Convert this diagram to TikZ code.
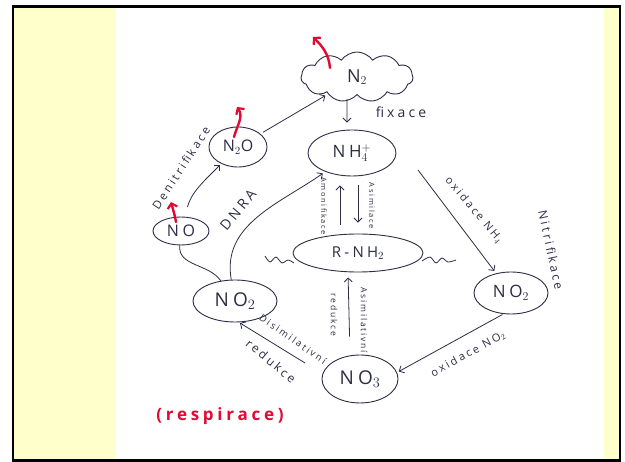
\documentclass[tikz,border=0pt]{standalone}
\usepackage{fontspec}
\setmainfont{Open Sans}
\newfontfamily\hand[LetterSpace=22]{Open Sans}
\usetikzlibrary{shapes.geometric,shapes.symbols,arrows.meta}
\definecolor{ink}{RGB}{45,45,70}
\definecolor{redink}{RGB}{225,10,50}
\definecolor{paper}{RGB}{255,255,204}
\begin{document}
\begin{tikzpicture}[x=1pt,y=1pt,
  chem/.style={ellipse, draw=ink, line width=0.9pt, inner sep=0pt, text=ink, font=\hand\fontsize{17}{20}\selectfont},
  flow/.style={draw=ink, line width=0.8pt, -{Straight Barb[length=4pt,width=8pt]}},
  plainline/.style={draw=ink, line width=0.8pt},
  redarrow/.style={draw=redink, line width=2.4pt, line cap=round, -{Straight Barb[length=4.5pt,width=10pt,line width=2.2pt]}},
  lbl/.style={inner sep=0pt, text=ink, font=\hand\fontsize{11}{13}\selectfont},
  small/.style={inner sep=0pt, text=ink, font=\hand\fontsize{7.5}{9}\selectfont}]
\useasboundingbox (0,0) rectangle (625,-462);
% background and frame
\fill[white] (0,0) rectangle (625,-462);
\fill[paper] (13,-6.5) rectangle (620,-460.5);
\fill[white] (115,-8) rectangle (604,-459);
\draw[black, line width=2.5pt] (13,-6.5) rectangle (620,-460.5);

% nodes
\node[cloud, draw=ink, line width=0.9pt, cloud puffs=11, cloud puff arc=110, aspect=2.3,
      minimum width=112pt, minimum height=50pt, inner sep=0pt, text=ink,
      font=\hand\fontsize{18}{20}\selectfont] (N2) at (357,-77) {N$_2$};
\node[chem, minimum width=88pt, minimum height=46pt] (NH4) at (352,-153) {NH$_4^+$};
\node[chem, minimum width=58pt, minimum height=40pt, font=\hand\fontsize{16}{18}\selectfont] (N2O) at (238,-147) {N$_2$O};
\node[chem, minimum width=56pt, minimum height=28pt, font=\hand\fontsize{16}{18}\selectfont] (NO) at (181,-231) {NO};
\node[chem, minimum width=84pt, minimum height=42pt, font=\hand\fontsize{19}{21}\selectfont] (NO2L) at (235,-301) {NO$_2$};
\node[chem, minimum width=74pt, minimum height=42pt] (NO2R) at (511,-293) {NO$_2$};
\node[chem, minimum width=76pt, minimum height=48pt, font=\hand\fontsize{19}{21}\selectfont] (NO3) at (360,-379) {NO$_3$};
\node[chem, minimum width=130pt, minimum height=38pt, font=\hand\fontsize{15}{17}\selectfont] (RNH2) at (358,-253) {R-NH$_2$};

% wavy tails of R-NH2
\draw[plainline] plot[smooth] coordinates {(265,-256) (270,-262) (276,-257) (282,-263) (288,-260) (294,-263)};
\draw[plainline] plot[smooth] coordinates {(422,-261) (430,-257) (436,-263) (442,-258) (448,-262) (456,-260)};

% coordinates for free arrow ends
\coordinate (oxs) at (418,-170);
\coordinate (ds) at (305,-363);
\coordinate (de) at (240,-323);

% connectors
\draw[flow] ([xshift=-10pt,yshift=-4pt]N2.south) -- ([xshift=-5pt,yshift=7pt]NH4.north);
\draw[flow, shorten <=3pt, shorten >=3pt] (N2O) -- (N2);
\draw[flow, shorten <=10pt, shorten >=2pt] (NO) to[out=75, in=225] (N2O);
\draw[plainline] (NO) to[out=-95, in=125] (NO2L);
\draw[flow, shorten >=3pt] (NO2L) to[out=100, in=215] (NH4);
\draw[flow, shorten >=3pt] (oxs) -- (NO2R);
\draw[flow, shorten <=1pt, shorten >=2pt] (NO2R.250) -- (NO3.10);
\draw[flow] (ds) -- (de);
\draw[flow, shorten <=18pt, shorten >=5pt] ([xshift=-10pt]NO3.north) -- ([xshift=-10pt]RNH2.south);
\draw[flow, shorten <=9pt, shorten >=9pt] ([xshift=-18pt]RNH2.north) -- ([xshift=-12pt]NH4.south);
\draw[flow, shorten <=9pt, shorten >=11pt] ([xshift=6pt]NH4.south) -- ([xshift=0pt]RNH2.north);

% red escape arrows
\coordinate (r1s) at (330,-68); \coordinate (r1e) at (313,-37);
\coordinate (r2s) at (234,-137); \coordinate (r2e) at (237,-107);
\coordinate (r3s) at (176,-222); \coordinate (r3e) at (171,-202);
\draw[redarrow] (r1s) to[out=95, in=-45] (r1e);
\draw[redarrow] (r2s) to[out=75, in=-55] (r2e);
\draw[redarrow] (r3s) to[out=100, in=-75] (r3e);

% labels
\node[lbl, font=\hand\fontsize{14}{16}\selectfont] (fix) at (401,-112) {fixace};
\node[lbl, font=\hand\fontsize{11.5}{13}\selectfont, rotate=57] (denit) at (181,-168) {Denitrifikace};
\node[lbl, font=\hand\fontsize{14}{16}\selectfont, rotate=50] (dnra) at (238,-210) {DNRA};
\node[small, rotate=-90] (amon) at (324,-206) {Amonifikace};
\node[small, rotate=-90] (asim) at (372,-206) {Asimilace};
\node[lbl, rotate=-50] (oxnh) at (474,-210) {oxidace NH$_4$};
\node[lbl, font=\hand\fontsize{12}{14}\selectfont, rotate=-78] (nitr) at (551,-250) {Nitrifikace};
\node[lbl, rotate=29] (oxno) at (468,-354) {oxidace NO$_2$};
\node[lbl, font=\hand\fontsize{9.5}{11}\selectfont, rotate=-35] (disim) at (293,-339) {Disimilativní};
\node[lbl, font=\hand\fontsize{12}{14}\selectfont, rotate=-40] (red1) at (271,-361) {redukce};
\node[small, font=\hand\fontsize{8.5}{10}\selectfont, rotate=-90] (asimv) at (364,-320) {Asimilativní};
\node[small, font=\hand\fontsize{8.5}{10}\selectfont, rotate=-90] (red2) at (334,-315) {redukce};
\node[inner sep=0pt, text=redink, font=\hand\bfseries\fontsize{17}{19}\selectfont] (resp) at (220,-416) {(respirace)};
\end{tikzpicture}
\end{document}
